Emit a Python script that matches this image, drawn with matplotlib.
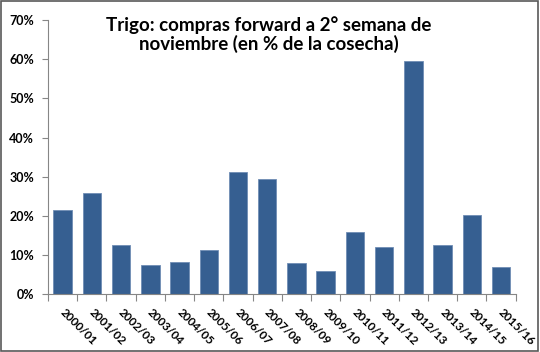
import matplotlib.pyplot as plt
import matplotlib.transforms as mtransforms
import numpy as np
from matplotlib.ticker import FuncFormatter
from matplotlib.patches import Rectangle

campanas = ['2000/01', '2001/02', '2002/03', '2003/04', '2004/05', '2005/06',
            '2006/07', '2007/08', '2008/09', '2009/10', '2010/11', '2011/12',
            '2012/13', '2013/14', '2014/15', '2015/16']
compras_pct = [21.4, 25.9, 12.6, 7.6, 8.2, 11.2, 31.3, 29.3, 8.0, 5.9,
               16.0, 12.0, 59.5, 12.7, 20.3, 6.9]

plt.rcParams['font.family'] = ['Lato', 'DejaVu Sans']

fig = plt.figure(figsize=(5.4, 3.52), dpi=100)
ax = fig.add_axes([0.0889, 0.164, 0.866, 0.779])

x = np.arange(len(campanas))
ax.bar(x, compras_pct, width=0.63, color='#365F91', edgecolor='#6F8DB5', linewidth=0.6)

ax.set_xlim(-0.5, len(campanas) - 0.5)
ax.set_ylim(0, 70)
ax.set_yticks(np.arange(0, 71, 10))
ax.yaxis.set_major_formatter(FuncFormatter(lambda v, p: f'{v:.0f}%'))
ax.tick_params(axis='y', labelsize=9, length=4, color='#868686', width=0.8, pad=6)
for lbl in ax.get_yticklabels():
    lbl.set_fontweight('bold')

# ticks between categories, labels on the bar centres
ax.set_xticks(np.arange(-0.5, len(campanas), 1))
ax.set_xticklabels([])
ax.set_xticks(x, minor=True)
ax.set_xticklabels(campanas, minor=True, rotation=-45, ha='left', va='top',
                   rotation_mode='anchor', fontsize=8.5, fontweight='bold')
ax.tick_params(axis='x', which='major', length=5, color='#868686', width=0.8)
ax.tick_params(axis='x', which='minor', length=0, pad=9)
shift = mtransforms.ScaledTranslation(3 / 100, 0, fig.dpi_scale_trans)
for lbl in ax.get_xticklabels(minor=True):
    lbl.set_transform(lbl.get_transform() + shift)

for side in ['top', 'right']:
    ax.spines[side].set_visible(False)
for side in ['left', 'bottom']:
    ax.spines[side].set_color('#868686')
    ax.spines[side].set_linewidth(0.8)

fig.text(0.498, 0.955, 'Trigo: compras forward a 2° semana de\nnoviembre (en % de la cosecha)',
         ha='center', va='top', fontsize=13.5, fontweight='bold', linespacing=1.1)

fig.patches.append(Rectangle((0.002, 0.003), 0.995, 0.994, transform=fig.transFigure,
                             fill=False, edgecolor='#595959', linewidth=1.2))

fig.savefig('out.png', dpi=100)
